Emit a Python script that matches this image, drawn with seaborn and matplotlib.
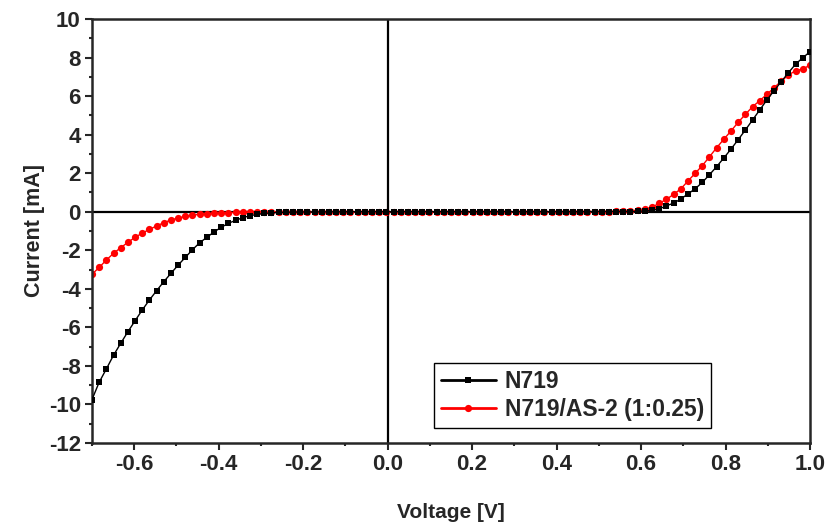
import numpy as np
import pandas as pd
import matplotlib
matplotlib.use('Agg')
import matplotlib.pyplot as plt
import seaborn as sns
from matplotlib.ticker import MultipleLocator

# voltage sweep, -0.7 V to 1.0 V (101 points)
voltage = np.linspace(-0.7, 1.0, 101)

# N719 current [mA]
n719 = [-9.75, -8.85, -8.16, -7.45, -6.83, -6.23, -5.66, -5.10, -4.58, -4.10,
        -3.63, -3.20, -2.77, -2.37, -1.97, -1.61, -1.33, -1.05, -0.81, -0.60,
        -0.45, -0.31, -0.21, -0.14, -0.09, -0.06, -0.04, -0.03, -0.02, -0.015,
        -0.01, -0.01, -0.01, -0.005, -0.005, -0.005, 0.0, 0.0, 0.0, 0.0,
        0.0, 0.0, 0.0, 0.0, 0.0, 0.0, 0.0, 0.0, 0.0, 0.0,
        0.0, 0.0, 0.0, 0.0, 0.0, 0.0, 0.0, 0.0, 0.0, 0.0,
        0.0, 0.0, 0.0, 0.0, 0.0, 0.0, 0.0, 0.0, 0.0, 0.005,
        0.005, 0.005, 0.01, 0.01, 0.01, 0.01, 0.02, 0.04, 0.07, 0.14,
        0.31, 0.44, 0.66, 0.92, 1.19, 1.52, 1.92, 2.34, 2.79, 3.25,
        3.74, 4.24, 4.76, 5.28, 5.80, 6.28, 6.75, 7.21, 7.66, 7.99,
        8.30]

# N719/AS-2 (1:0.25) current [mA]
n719_as2 = [-3.25, -2.89, -2.51, -2.16, -1.87, -1.59, -1.33, -1.11, -0.92, -0.74,
            -0.57, -0.43, -0.33, -0.24, -0.18, -0.13, -0.10, -0.08, -0.06, -0.05,
            -0.04, -0.03, -0.02, -0.02, -0.015, -0.01, -0.01, -0.01, -0.005, -0.005,
            0.0, 0.0, 0.0, 0.0, 0.0, 0.0, 0.0, 0.0, 0.0, 0.0,
            0.0, 0.0, 0.0, 0.0, 0.0, 0.0, 0.0, 0.0, 0.0, 0.0,
            0.0, 0.0, 0.0, 0.0, 0.0, 0.0, 0.0, 0.0, 0.0, 0.0,
            0.0, 0.0, 0.0, 0.0, 0.0, 0.0, 0.0, 0.005, 0.005, 0.005,
            0.01, 0.01, 0.01, 0.02, 0.03, 0.05, 0.08, 0.13, 0.23, 0.44,
            0.64, 0.90, 1.18, 1.59, 1.99, 2.39, 2.85, 3.32, 3.76, 4.19,
            4.64, 5.05, 5.45, 5.76, 6.09, 6.43, 6.78, 7.09, 7.32, 7.40,
            7.61]

labels = ['N719', 'N719/AS-2 (1:0.25)']
xtick_vals = [-0.6, -0.4, -0.2, 0.0, 0.2, 0.4, 0.6, 0.8, 1.0]

df = pd.DataFrame({'Voltage': np.concatenate([voltage, voltage]),
                   'Current': n719 + n719_as2,
                   'Sample': [labels[0]] * len(voltage) + [labels[1]] * len(voltage)})

sns.set_style('ticks')
plt.rcParams['font.family'] = ['Liberation Sans', 'DejaVu Sans']
plt.rcParams['font.weight'] = 'bold'
plt.rcParams['axes.labelweight'] = 'bold'
plt.rcParams['axes.unicode_minus'] = False

fig = plt.figure(figsize=(8.3, 5.27), dpi=100)
ax = fig.add_axes([0.1108, 0.1594, 0.8651, 0.8046])

ax.axhline(0, color='black', lw=1.6, zorder=1)
ax.axvline(0, color='black', lw=1.6, zorder=1)

sns.lineplot(data=df[df['Sample'] == labels[0]], x='Voltage', y='Current',
             color='black', marker='s', markersize=4.4, markeredgewidth=0,
             lw=1.0, label=labels[0], ax=ax, zorder=3)
sns.lineplot(data=df[df['Sample'] == labels[1]], x='Voltage', y='Current',
             color='red', marker='o', markersize=5.2, markeredgewidth=0,
             lw=1.0, label=labels[1], ax=ax, zorder=2)

ax.set_xlim(-0.7, 1.0)
ax.set_ylim(-12, 10)
ax.set_xticks(xtick_vals)
ax.set_xticklabels(['%.1f' % v for v in xtick_vals])
ax.xaxis.set_minor_locator(MultipleLocator(0.1))
ax.yaxis.set_major_locator(MultipleLocator(2))
ax.yaxis.set_minor_locator(MultipleLocator(1))
ax.tick_params(which='major', direction='out', length=5, width=1.5, labelsize=16,
               pad=3, top=False, right=False)
ax.tick_params(which='minor', direction='out', length=2.5, width=1.5,
               top=False, right=False)
for s in ax.spines.values():
    s.set_linewidth(1.8)
    s.set_visible(True)

ax.set_xlabel('Voltage [V]', fontsize=15, fontweight='bold', labelpad=20)
ax.set_ylabel('Current [mA]', fontsize=15.5, fontweight='bold', labelpad=3)

leg = ax.legend(loc='lower left', bbox_to_anchor=(0.476, 0.035), fontsize=16.5,
                frameon=True, fancybox=False, edgecolor='black', framealpha=1,
                handlelength=2.4, borderpad=0.3, labelspacing=0.25,
                handletextpad=0.4, borderaxespad=0)
leg.get_frame().set_linewidth(1.0)
for h in leg.get_lines():
    h.set_linewidth(2.0)

fig.savefig('out.png', dpi=100)
